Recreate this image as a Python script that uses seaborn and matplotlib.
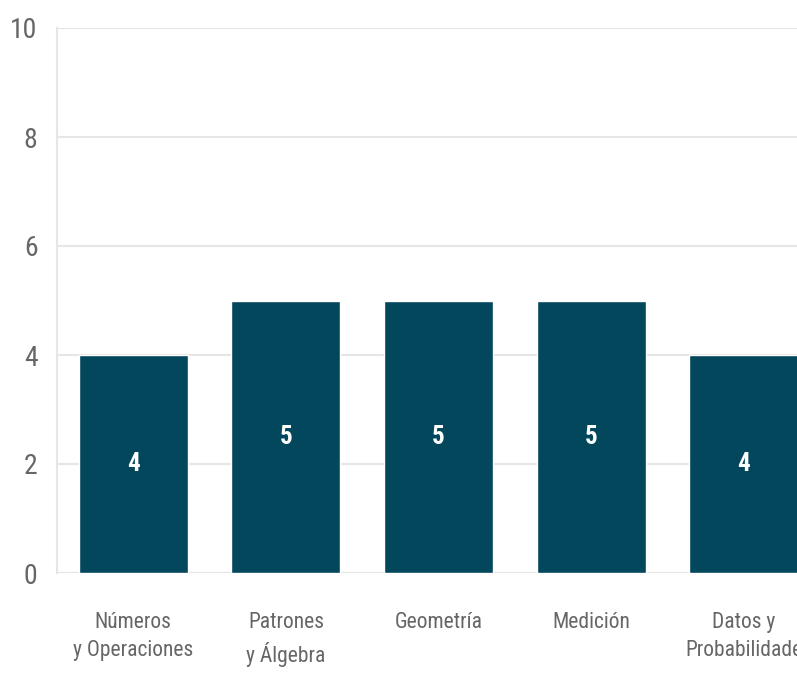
import matplotlib
matplotlib.use("Agg")
import matplotlib.pyplot as plt
from matplotlib import font_manager
import seaborn as sns
import pandas as pd

# data
categorias = ["Números\ny Operaciones", "Patrones\ny Álgebra", "Geometría",
              "Medición", "Datos y\nProbabilidade"]
valores = [4, 5, 5, 5, 4]

sns.set_style("white")
names = {f.name for f in font_manager.fontManager.ttflist}
fam = "DejaVu Sans"
for cand in ["Roboto Condensed", "Liberation Sans Narrow", "Open Sans Condensed"]:
    if cand in names:
        fam = cand
        break
plt.rcParams["font.family"] = [fam, "DejaVu Sans"]

df = pd.DataFrame({"cat": categorias, "val": valores})

fig = plt.figure(figsize=(7.97, 6.76), dpi=100)
ax = fig.add_axes([57 / 797, 103 / 676, 763 / 797, 545 / 676])

sns.barplot(data=df, x="cat", y="val", color="#03475d", saturation=1,
            width=0.715, ax=ax)

ax.set_ylim(0, 10)
ax.set_xlim(-0.5, len(categorias) - 0.5)
ax.set_yticks(range(0, 11, 2))
ax.yaxis.grid(True, color="#e6e6e6", linewidth=1.5)
ax.set_axisbelow(True)
for s in ["top", "right", "bottom"]:
    ax.spines[s].set_visible(False)
ax.spines["left"].set_color("#e6e6e6")
ax.spines["left"].set_linewidth(1.5)
ax.axhline(0, color="#d0d0d0", linewidth=1.5, zorder=0.5)

ax.tick_params(axis="y", length=9, width=1.5, color="#e6e6e6", pad=5,
               labelsize=20, labelcolor="#666666")
ax.tick_params(axis="x", length=0, pad=28, labelsize=15.5, labelcolor="#666666")
for t in ax.get_xticklabels():
    t.set_linespacing(1.45)
ax.set_xlabel("")
ax.set_ylabel("")

for c in ax.containers:
    ax.bar_label(c, label_type="center", color="white", fontsize=18,
                 fontweight="bold")

fig.savefig("out.png", dpi=100)
